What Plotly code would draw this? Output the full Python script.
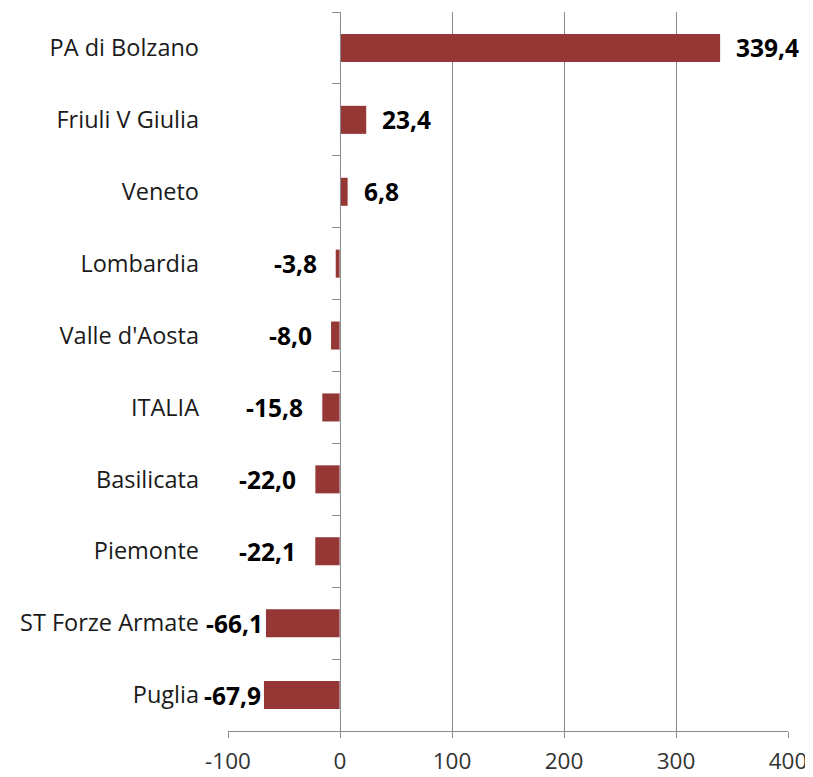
import plotly.graph_objects as go

categories = ["PA di Bolzano", "Friuli V Giulia", "Veneto", "Lombardia", "Valle d'Aosta",
              "ITALIA", "Basilicata", "Piemonte", "ST Forze Armate", "Puglia"]
values = [339.4, 23.4, 6.8, -3.8, -8.0, -15.8, -22.0, -22.1, -66.1, -67.9]
x_ticks = [-100, 0, 100, 200, 300, 400]

labels = [f"{v:.1f}".replace(".", ",") for v in values]
FONT = "Open Sans"
GRID = "#8c8c8c"

fig = go.Figure()
fig.add_trace(go.Bar(
    x=values, y=categories, orientation="h",
    marker=dict(color="#953735", line=dict(width=0)),
    width=0.39, hoverinfo="skip",
))
# invisible trace for the category axis drawn at zero
fig.add_trace(go.Bar(x=[0]*len(categories), y=categories, orientation="h",
                     yaxis="y2", showlegend=False, hoverinfo="skip",
                     marker=dict(color="rgba(0,0,0,0)")))

for c, v, t in zip(categories, values, labels):
    if v >= 0:
        anchor, shift = "left", 14
    else:
        anchor, shift = "right", (-1 if v < -50 else -17)
    fig.add_annotation(x=v, y=c, text=f"<b>{t}</b>", showarrow=False,
                       xanchor=anchor, xshift=shift, yshift=0,
                       font=dict(family=FONT, size=24.5, color="black"))

fig.update_layout(
    width=805, height=769,
    margin=dict(l=220, r=25, t=4, b=46, autoexpand=False),
    paper_bgcolor="white", plot_bgcolor="white",
    showlegend=False,
    font=dict(family=FONT, size=24, color="#1a1a1a"),
    xaxis=dict(range=[-100, 400], tickvals=x_ticks, ticktext=[str(t) for t in x_ticks],
               showgrid=True, gridcolor=GRID, gridwidth=1, zeroline=False,
               showline=True, linecolor=GRID, ticks="outside", ticklen=6, tickcolor=GRID,
               domain=[0, 1], tickfont=dict(size=22.5, color="#333333"),
               ticklabelstandoff=4, automargin=False),
    yaxis=dict(categoryorder="array", categoryarray=categories[::-1],
               range=[-0.5, len(categories) - 0.5],
               showgrid=False, zeroline=False, showline=False, ticks="",
               ticklabelstandoff=28, tickfont=dict(size=23.5, color="#1a1a1a"),
               automargin=False),
    yaxis2=dict(overlaying="y", anchor="free", position=0.2, side="left",
                categoryorder="array", categoryarray=categories[::-1],
                range=[-0.5, len(categories) - 0.5],
                showticklabels=False, showgrid=False, zeroline=False,
                showline=True, linecolor=GRID, ticks="outside", ticklen=8,
                tickcolor=GRID, tickson="boundaries", automargin=False),
)

fig.write_html("out.html")
